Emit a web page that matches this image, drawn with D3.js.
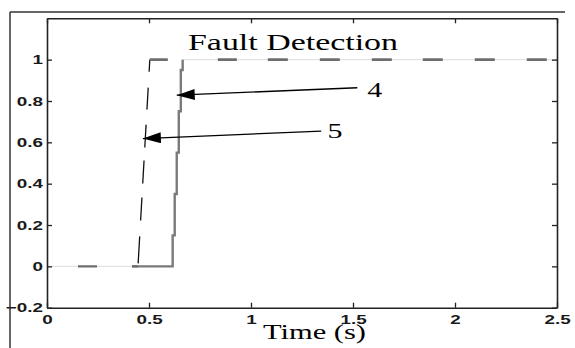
<!DOCTYPE html>
<html><head><meta charset="utf-8">
<script src="https://cdn.jsdelivr.net/npm/d3@7"></script>
<style>html,body{margin:0;padding:0;background:#fff;}svg{display:block;}</style>
</head><body>
<svg id="c" width="575" height="348"></svg>
<script>
// ---- data ----
const xTicks = [0, 0.5, 1, 1.5, 2, 2.5];
const yTicks = [-0.2, 0, 0.2, 0.4, 0.6, 0.8, 1];
const s4Time  = [0, 0.417, 0.616, 0.626, 0.636, 0.646, 0.656, 0.665, 2.5];
const s4Value = [0, 0,     0.15,  0.35,  0.55,  0.75,  0.95,  1,     1];
const s5Time  = [0, 0.446, 0.504, 2.5];
const s5Value = [0, 0,     1,     1];
const titleText = "Fault Detection";
const xLabel = "Time (s)";
const annotations = [
  {label: "4", from: [1.521, 0.864], to: [0.636, 0.828], text: [1.570, 0.817]},
  {label: "5", from: [1.344, 0.654], to: [0.470, 0.618], text: [1.375, 0.620]}
];

const svg = d3.select("#c");
const W = 575, H = 348;
const m = {l: 47, r: 557, t: 18.3, b: 307.7};
const x = d3.scaleLinear().domain([0, 2.5]).range([m.l, m.r]);
const y = d3.scaleLinear().domain([-0.2, 1.2]).range([m.b, m.t]);

// outer frame lines
svg.append("line").attr("x1", 10).attr("y1", 12).attr("x2", 565).attr("y2", 12)
  .attr("stroke", "#333").attr("stroke-width", 1.5);
svg.append("line").attr("x1", 10).attr("y1", 12).attr("x2", 10).attr("y2", H)
  .attr("stroke", "#333").attr("stroke-width", 1.5);

const s4 = s4Time.map((t, i) => ({t, v: s4Value[i]}));
const s5 = s5Time.map((t, i) => ({t, v: s5Value[i]}));

const stepLine = d3.line().x(d => x(d.t)).y(d => y(d.v)).curve(d3.curveStepAfter);
const lin = d3.line().x(d => x(d.t)).y(d => y(d.v));

const g = svg.append("g");
// series 4: faint full line
g.append("path").datum(s4).attr("d", stepLine)
  .attr("fill", "none").attr("stroke", "#dcdcdc").attr("stroke-width", 1);
// series 4: visible transition portion
g.append("path").datum(s4.filter(d => d.t >= 0.417 && d.t <= 0.665)).attr("d", stepLine)
  .attr("fill", "none").attr("stroke", "#7a7a7a").attr("stroke-width", 2.4);

// series 5 dashed
g.append("path").datum(s5.slice(0, 2)).attr("d", lin)
  .attr("fill", "none").attr("stroke", "#6e6e6e").attr("stroke-width", 2.4)
  .attr("stroke-dasharray", "0,31,19,35,8,100");
g.append("path").datum(s5.slice(1, 3)).attr("d", lin)
  .attr("fill", "none").attr("stroke", "#111").attr("stroke-width", 1.3)
  .attr("stroke-dasharray", "0,3,27,16,23,14,23,13,23,15,22,16,20");
g.append("path").datum(s5.slice(2, 4)).attr("d", lin)
  .attr("fill", "none").attr("stroke", "#6e6e6e").attr("stroke-width", 2.6)
  .attr("stroke-dasharray", "18,50,19,31,20,32,20,32,20,31,20,32,20,32,20,40");

// axes (inward ticks, all four sides)
const fontTick = "bold 13px 'Liberation Sans', Arial, sans-serif";
const stretch = 1.45;
function styleAxis(sel, showText) {
  sel.select(".domain").attr("stroke", "#222").attr("stroke-width", 1.6);
  sel.selectAll(".tick line").attr("stroke", "#222").attr("stroke-width", 1.3);
  if (!showText) sel.selectAll(".tick text").remove();
  else sel.selectAll(".tick text").style("font", fontTick).attr("fill", "#1a1a1a")
    .each(function() {
      const w = this.getComputedTextLength();
      d3.select(this).attr("textLength", w * stretch).attr("lengthAdjust", "spacingAndGlyphs");
    });
}
const fmt = d => d3.format("")(d);
svg.append("g").attr("transform", `translate(0,${m.b})`)
  .call(d3.axisBottom(x).tickValues(xTicks).tickFormat(fmt).tickSizeInner(-5).tickSizeOuter(0).tickPadding(7))
  .call(s => styleAxis(s, true));
svg.append("g").attr("transform", `translate(0,${m.t})`)
  .call(d3.axisTop(x).tickValues(xTicks).tickSizeInner(-5).tickSizeOuter(0))
  .call(s => styleAxis(s, false));
svg.append("g").attr("transform", `translate(${m.l},0)`)
  .call(d3.axisLeft(y).tickValues(yTicks).tickFormat(fmt).tickSizeInner(-5).tickSizeOuter(0).tickPadding(4))
  .call(s => styleAxis(s, true));
svg.append("g").attr("transform", `translate(${m.r},0)`)
  .call(d3.axisRight(y).tickValues(yTicks).tickSizeInner(-5).tickSizeOuter(0))
  .call(s => styleAxis(s, false));

// title and label
const serif = "'Liberation Serif', 'Times New Roman', serif";
svg.append("text").attr("x", 188).attr("y", 50).text(titleText)
  .style("font-family", serif).style("font-size", "23px").attr("fill", "#000")
  .attr("textLength", 210).attr("lengthAdjust", "spacingAndGlyphs");
svg.append("text").attr("x", 263).attr("y", 339).text(xLabel)
  .style("font-family", serif).style("font-size", "22px").attr("fill", "#000")
  .attr("textLength", 103).attr("lengthAdjust", "spacingAndGlyphs");

// arrows
const defs = svg.append("defs");
defs.append("marker").attr("id", "ah").attr("markerUnits", "userSpaceOnUse")
  .attr("markerWidth", 20).attr("markerHeight", 12).attr("refX", 18).attr("refY", 5.5)
  .attr("orient", "auto")
  .append("path").attr("d", "M0,0 L18,5.5 L0,11 Z").attr("fill", "#000");
annotations.forEach(a => {
  svg.append("line")
    .attr("x1", x(a.from[0])).attr("y1", y(a.from[1]))
    .attr("x2", x(a.to[0])).attr("y2", y(a.to[1]))
    .attr("stroke", "#000").attr("stroke-width", 1.3).attr("marker-end", "url(#ah)");
  svg.append("text").attr("x", x(a.text[0])).attr("y", y(a.text[1])).text(a.label)
    .style("font-family", serif).style("font-size", "22px").attr("fill", "#000")
    .attr("textLength", 15).attr("lengthAdjust", "spacingAndGlyphs");
});
</script>
</body></html>
